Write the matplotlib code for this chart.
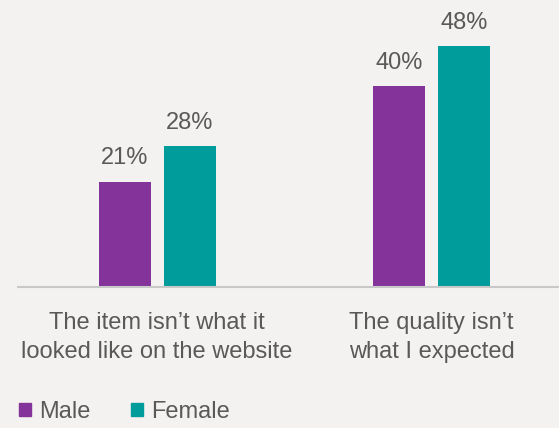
import matplotlib
matplotlib.use("Agg")
import matplotlib.pyplot as plt
from matplotlib.patches import Patch
import numpy as np

categories = ["The item isn\u2019t what it\nlooked like on the website",
              "The quality isn\u2019t\nwhat I expected"]
male = [21, 40]
female = [28, 48]
series_names = ["Male", "Female"]

PURPLE = "#833399"
TEAL = "#009C9B"
TXT = "#595959"
BG = "#F3F2F0"

plt.rcParams['font.family'] = ['Liberation Sans', 'DejaVu Sans']

fig = plt.figure(figsize=(5.59, 4.28), dpi=100, facecolor=BG)
unit = 274.5
left_px = 157 - 0.5 * unit
ax = fig.add_axes([left_px / 559, (428 - 287) / 428, 2 * unit / 559, 270 / 428])
ax.set_facecolor(BG)
ax.patch.set_alpha(0)

x = np.arange(len(categories))
w = 52 / unit
off = 32.5 / unit
b1 = ax.bar(x - off, male, w, color=PURPLE)
b2 = ax.bar(x + off, female, w, color=TEAL)
for bars, vals in ((b1, male), (b2, female)):
    for r, v in zip(bars, vals):
        ax.annotate(f"{v}%", (r.get_x() + r.get_width() / 2, v),
                    xytext=(0, 9), textcoords="offset points",
                    ha="center", va="bottom", fontsize=17, color=TXT)

ax.set_xlim(-0.5, 1.5)
ax.set_ylim(0, 270 / 5.02)
ax.set_yticks([])
ax.set_xticks(x)
ax.set_xticklabels(categories, fontsize=17, color=TXT, linespacing=1.4)
ax.tick_params(axis='x', length=0, pad=18)
for s in ("top", "right", "left"):
    ax.spines[s].set_visible(False)
ax.spines["bottom"].set_color("#C8C8C8")
ax.spines["bottom"].set_linewidth(1.5)
ax.spines["bottom"].set_bounds(-0.5 + (18 - left_px) / unit, 1.5)

handles = [Patch(color=PURPLE), Patch(color=TEAL)]
fig.legend(handles, series_names, loc="lower left", bbox_to_anchor=(19 / 559, 0.012),
           ncol=2, frameon=False, fontsize=17, labelcolor=TXT,
           borderpad=0, borderaxespad=0,
           handlelength=0.52, handleheight=0.52, handletextpad=0.34,
           columnspacing=1.7)

fig.savefig("out.png", dpi=100, facecolor=BG)
